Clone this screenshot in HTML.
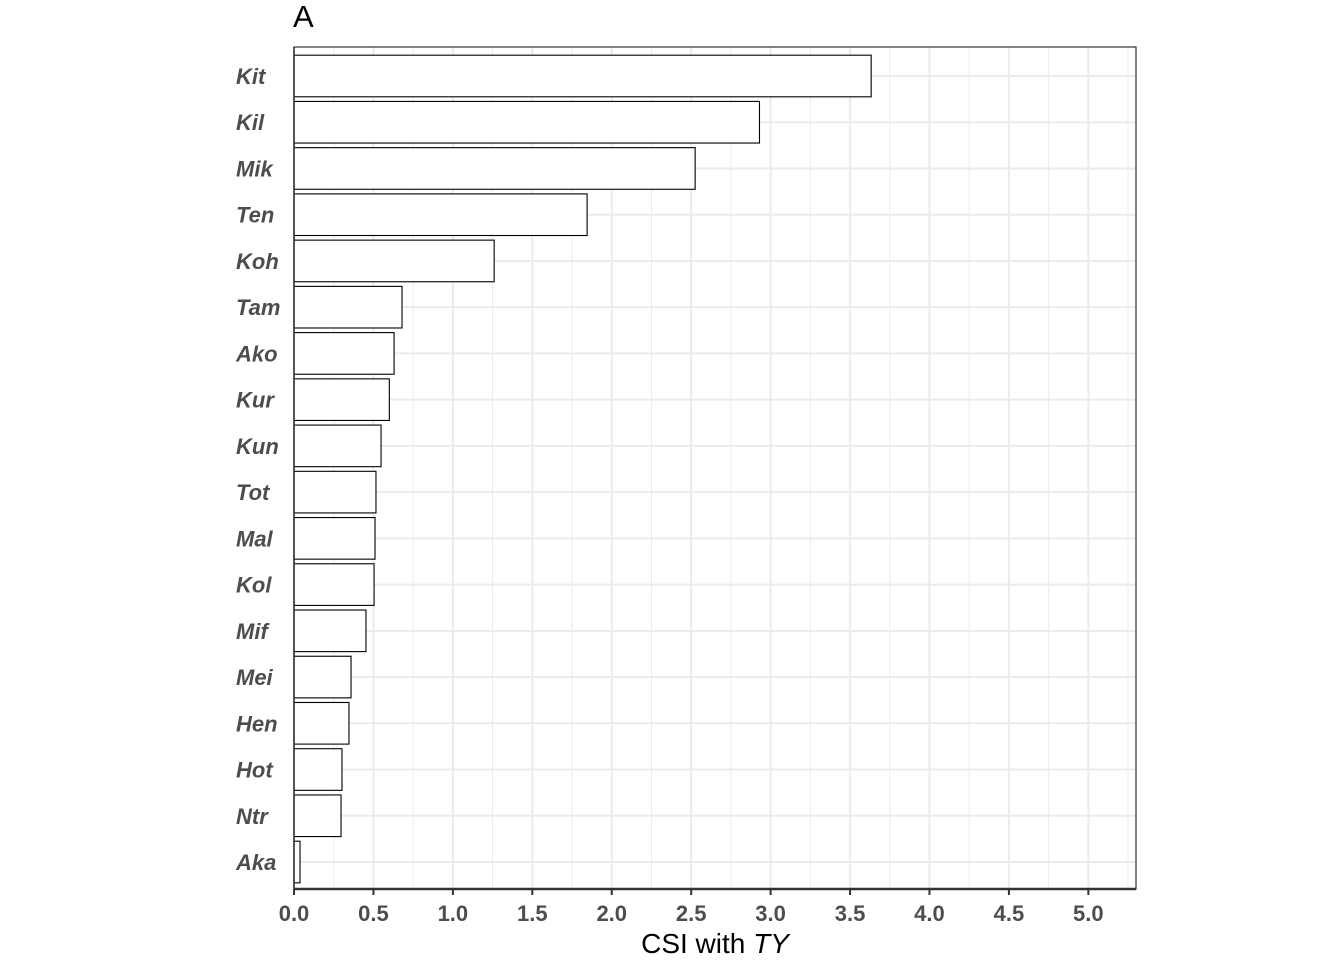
<!DOCTYPE html>
<html><head><meta charset="utf-8"><style>
body{margin:0;background:#fff;}
svg{display:block;font-family:"Liberation Sans",Arial,sans-serif;}
</style></head><body>
<svg id="chart" width="1344" height="960">
<text x="293" y="27" font-size="31" fill="#000">A</text>
<g id="grid"></g><g id="bars"></g><g id="axes"></g>
<text x="715" y="953" font-size="28" text-anchor="middle" fill="#000">CSI with <tspan font-style="italic">TY</tspan></text>
</svg>
<script>
const categories=["Kit","Kil","Mik","Ten","Koh","Tam","Ako","Kur","Kun","Tot","Mal","Kol","Mif","Mei","Hen","Hot","Ntr","Aka"];
const values=[3.633,2.93,2.525,1.845,1.26,0.68,0.63,0.60,0.548,0.516,0.51,0.504,0.453,0.359,0.346,0.302,0.296,0.038];
const xTicks=[0,0.5,1,1.5,2,2.5,3,3.5,4,4.5,5];
const xTickLabels=["0.0","0.5","1.0","1.5","2.0","2.5","3.0","3.5","4.0","4.5","5.0"];
const NS="http://www.w3.org/2000/svg";
const L=294,R=1136,T=47,B=889,X0=0,X1=5.3;
const x=v=>L+(v-X0)/(X1-X0)*(R-L);
const step=(862-76)/17;
const y=i=>76+i*step;
function mk(p,tag,a){const e=document.createElementNS(NS,tag);for(const k in a)e.setAttribute(k,a[k]);p.appendChild(e);return e;}
const g=document.getElementById('grid'),b=document.getElementById('bars'),ax=document.getElementById('axes');
for(let i=0;i<xTicks.length;i++){
  const mv=xTicks[i]+0.25;
  if(x(mv)<R){const m=mk(g,'line',{x1:x(mv),x2:x(mv),y1:T,y2:B,stroke:'#ebebeb','stroke-width':1});
  
  }
  const l=mk(g,'line',{x1:x(xTicks[i]),x2:x(xTicks[i]),y1:T,y2:B,stroke:'#ebebeb','stroke-width':2});
  
  
}
categories.forEach((c,i)=>{
  const l=mk(g,'line',{x1:L,x2:R,y1:y(i),y2:y(i),stroke:'#ebebeb','stroke-width':2});
  
  
});
const bh=step*0.9;
categories.forEach((c,i)=>{
  const r=mk(b,'rect',{x:x(0),y:y(i)-bh/2,width:x(values[i])-x(0),height:bh,fill:'#fff',stroke:'#000','stroke-width':1.1});
  
  
  const t=mk(ax,'text',{x:236,y:y(i)+8,'font-size':22,'font-weight':'bold','font-style':'italic',fill:'#4d4d4d'});
  t.textContent=c;
  
  
});
const fr=mk(ax,'rect',{x:L,y:T,width:R-L,height:B-T,fill:'none',stroke:'#333','stroke-width':1.2});


const xl=mk(ax,'line',{x1:L,x2:R,y1:B,y2:B,stroke:'#333','stroke-width':2.5});


const yl=mk(ax,'line',{x1:L,x2:L,y1:T,y2:B,stroke:'#333','stroke-width':1.5});


xTicks.forEach((v,i)=>{
  const tk=mk(ax,'line',{x1:x(v),x2:x(v),y1:B,y2:B+6,stroke:'#333','stroke-width':2});
  
  
  const t=mk(ax,'text',{x:x(v),y:921,'font-size':22,'font-weight':'bold','text-anchor':'middle',fill:'#4d4d4d'});
  t.textContent=xTickLabels[i];
  
  
});
</script>
</body></html>
